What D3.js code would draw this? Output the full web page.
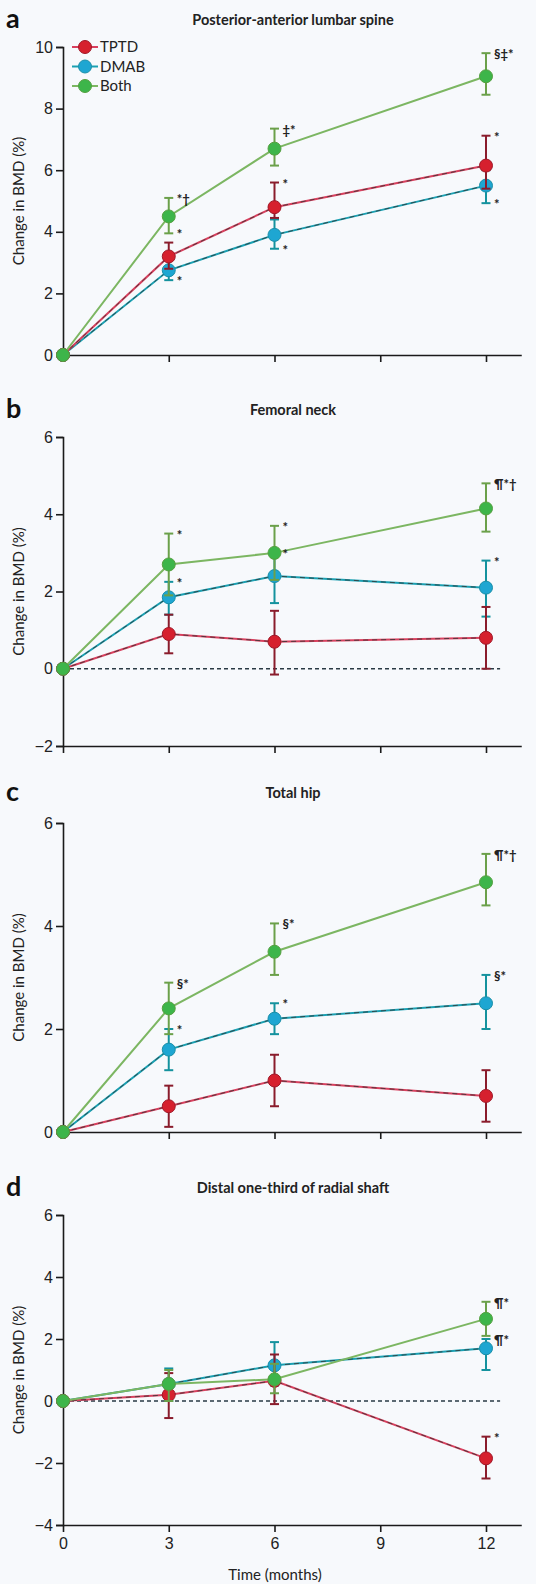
<!DOCTYPE html>
<html>
<head>
<meta charset="utf-8">
<script src="https://cdn.jsdelivr.net/npm/d3@7"></script>
<style>
  body { margin: 0; background: #f7f9fc; }
  svg { display: block; font-family: Lato, "Open Sans", sans-serif; }
  .tick text { font-size: 16px; fill: #222; }
  .domain, .tick line { stroke: #1a1a1a; stroke-width: 1.6; }
</style>
</head>
<body>
<script>
// months of follow-up and treatment groups
var months = [0, 3, 6, 12];
var groups = ["TPTD", "DMAB", "Both"];
var xTicks = [0, 3, 6, 9, 12];

// a: posterior-anterior lumbar spine (rows: TPTD, DMAB, Both)
var spineMean = [[0, 3.2, 4.8, 6.15], [0, 2.75, 3.9, 5.5], [0, 4.5, 6.7, 9.05]];
var spineLo   = [[0, 2.8, 4.45, 5.4], [0, 2.43, 3.45, 4.93], [0, 3.95, 6.15, 8.45]];
var spineHi   = [[0, 3.65, 5.6, 7.12], [0, 3.1, 4.4, 6.0], [0, 5.1, 7.35, 9.8]];
var spineTicks = [0, 2, 4, 6, 8, 10];
var spineNotes = [[1, 2, "*†"], [1, 2, "*", "lo"], [1, 1, "*", "lo"], [2, 2, "‡*"], [2, 0, "*"],
                  [2, 1, "*", "lo"], [3, 2, "§‡*"], [3, 0, "*"], [3, 1, "*", "lo"]];

// b: femoral neck
var neckMean = [[0, 0.9, 0.7, 0.8], [0, 1.85, 2.4, 2.1], [0, 2.7, 3.0, 4.15]];
var neckLo   = [[0, 0.4, -0.15, 0.0], [0, 1.4, 1.7, 1.35], [0, 1.9, 2.3, 3.55]];
var neckHi   = [[0, 1.4, 1.5, 1.6], [0, 2.25, 3.0, 2.8], [0, 3.5, 3.7, 4.8]];
var neckTicks = [-2, 0, 2, 4, 6];
var neckNotes = [[1, 2, "*"], [1, 1, "*"], [2, 2, "*"], [2, 1, "*"], [3, 2, "¶*†"], [3, 1, "*"]];

// c: total hip
var hipMean = [[0, 0.5, 1.0, 0.7], [0, 1.6, 2.2, 2.5], [0, 2.4, 3.5, 4.85]];
var hipLo   = [[0, 0.1, 0.5, 0.2], [0, 1.2, 1.9, 2.0], [0, 1.9, 3.05, 4.4]];
var hipHi   = [[0, 0.9, 1.5, 1.2], [0, 2.0, 2.5, 3.05], [0, 2.9, 4.05, 5.4]];
var hipTicks = [0, 2, 4, 6];
var hipNotes = [[1, 2, "§*"], [1, 1, "*"], [2, 2, "§*"], [2, 1, "*"], [3, 2, "¶*†"], [3, 1, "§*"]];

// d: distal one-third of radial shaft
var radMean = [[0, 0.2, 0.65, -1.85], [0, 0.55, 1.15, 1.7], [0, 0.55, 0.7, 2.65]];
var radLo   = [[0, -0.55, -0.1, -2.5], [0, 0.0, 0.5, 1.0], [0, 0.0, 0.25, 2.1]];
var radHi   = [[0, 0.9, 1.5, -1.15], [0, 1.05, 1.9, 2.0], [0, 1.0, 1.2, 3.2]];
var radTicks = [-4, -2, 0, 2, 4, 6];
var radNotes = [[3, 2, "¶*"], [3, 1, "¶*"], [3, 0, "*"]];

var fills   = ["#d6202e", "#1ea6d2", "#3db54a"];
var strokes = ["#a01828", "#1a8fa8", "#55a040"];
var lineCol = ["#d8405e", "#1aa0b2", "#7cb662"];
var barCol  = ["#8a1c2c", "#14929e", "#6ba04a"];

var width = 536, height = 1584;

var svg = d3.select("body").append("svg")
    .attr("width", width)
    .attr("height", height);

var x = d3.scaleLinear().domain([0, 13]).range([63, 521.25]);

var panels = [
  {letter: "a", title: "Posterior-anterior lumbar spine", titleY: 20, dom: [0, 10], rng: [355, 47],
   mean: spineMean, lo: spineLo, hi: spineHi, ticks: spineTicks, notes: spineNotes, zero: false, legend: true},
  {letter: "b", title: "Femoral neck", titleY: 410, dom: [-2, 6], rng: [746, 437],
   mean: neckMean, lo: neckLo, hi: neckHi, ticks: neckTicks, notes: neckNotes, zero: true},
  {letter: "c", title: "Total hip", titleY: 793, dom: [0, 6], rng: [1132, 823],
   mean: hipMean, lo: hipLo, hi: hipHi, ticks: hipTicks, notes: hipNotes, zero: false},
  {letter: "d", title: "Distal one-third of radial shaft", titleY: 1188, dom: [-4, 6], rng: [1525, 1215],
   mean: radMean, lo: radLo, hi: radHi, ticks: radTicks, notes: radNotes, zero: true, xlabels: true}
];

panels.forEach(function(p) {
  var y = d3.scaleLinear().domain(p.dom).range(p.rng);
  var g = svg.append("g");

  g.append("text")
      .attr("x", 6).attr("y", p.titleY + 8)
      .style("font-size", "27px").style("font-weight", "bold").style("fill", "#111")
      .text(p.letter);
  g.append("text")
      .attr("x", 293).attr("y", p.titleY + 5)
      .attr("text-anchor", "middle")
      .style("font-size", "14.5px").style("font-weight", "bold").style("fill", "#222")
      .text(p.title);

  // y axis
  g.append("g")
      .attr("transform", "translate(" + x(0) + ",0)")
      .call(d3.axisLeft(y).tickValues(p.ticks).tickSize(7).tickPadding(3).tickFormat(d3.format("d")));

  // x axis
  var xAxis = d3.axisBottom(x).tickValues(xTicks).tickSize(7).tickPadding(6).tickSizeOuter(0);
  if (!p.xlabels) xAxis.tickFormat("");
  g.append("g")
      .attr("transform", "translate(0," + y(p.dom[0]) + ")")
      .call(xAxis);

  g.append("text")
      .attr("transform", "translate(24," + (p.rng[0] + p.rng[1]) / 2 + ") rotate(-90)")
      .attr("text-anchor", "middle")
      .style("font-size", "15px").style("fill", "#222")
      .text("Change in BMD (%)");

  if (p.zero) {
    g.append("line")
        .attr("x1", x(0)).attr("x2", x(12.4))
        .attr("y1", y(0)).attr("y2", y(0))
        .attr("stroke", "#2a3a44").attr("stroke-width", 1.4)
        .attr("stroke-dasharray", "4,3");
  }

  var line = d3.line()
      .x(function(d, i) { return x(months[i]); })
      .y(function(d) { return y(d); });

  [1, 0, 2].forEach(function(s) {
    var sg = g.append("g");
    sg.append("path")
        .datum(p.mean[s])
        .attr("d", line)
        .attr("fill", "none")
        .attr("stroke", lineCol[s]).attr("stroke-width", 2);
    if (s < 2) {
      sg.append("path")
          .datum(p.mean[s])
          .attr("d", line)
          .attr("fill", "none")
          .attr("stroke", "#333").attr("stroke-width", 0.8)
          .attr("stroke-dasharray", "5,4");
    }
    var idx = [1, 2, 3];
    sg.selectAll(".bar").data(idx).enter().append("line")
        .attr("x1", function(i) { return x(months[i]); })
        .attr("x2", function(i) { return x(months[i]); })
        .attr("y1", function(i) { return y(p.lo[s][i]); })
        .attr("y2", function(i) { return y(p.hi[s][i]); })
        .attr("stroke", barCol[s]).attr("stroke-width", 2);
    ["lo", "hi"].forEach(function(k) {
      sg.selectAll(".cap" + k).data(idx).enter().append("line")
          .attr("x1", function(i) { return x(months[i]) - 4.5; })
          .attr("x2", function(i) { return x(months[i]) + 4.5; })
          .attr("y1", function(i) { return y(p[k][s][i]); })
          .attr("y2", function(i) { return y(p[k][s][i]); })
          .attr("stroke", barCol[s]).attr("stroke-width", 2);
    });
    sg.selectAll("circle").data(p.mean[s]).enter().append("circle")
        .attr("cx", function(d, i) { return x(months[i]); })
        .attr("cy", function(d) { return y(d); })
        .attr("r", 6.5)
        .attr("fill", fills[s])
        .attr("stroke", strokes[s]).attr("stroke-width", 1);
  });

  // significance marks next to error bars
  g.selectAll(".note").data(p.notes).enter().append("text")
      .attr("x", function(d) { return x(months[d[0]]) + 8; })
      .attr("y", function(d) {
        var v = d[3] === "lo" ? p.lo[d[1]][d[0]] : p.hi[d[1]][d[0]];
        return y(v) + 6;
      })
      .style("font-size", "13px").style("font-weight", "bold").style("fill", "#222")
      .text(function(d) { return d[2]; });

  if (p.legend) {
    var leg = g.selectAll(".legend").data(groups).enter().append("g")
        .attr("transform", function(d, i) { return "translate(85," + (47 + i * 19.5) + ")"; });
    leg.append("line")
        .attr("x1", -13).attr("x2", 13)
        .attr("stroke", function(d, i) { return lineCol[i]; }).attr("stroke-width", 2);
    leg.append("circle")
        .attr("r", 6.5)
        .attr("fill", function(d, i) { return fills[i]; })
        .attr("stroke", function(d, i) { return strokes[i]; });
    leg.append("text")
        .attr("x", 15).attr("dy", "0.35em")
        .style("font-size", "15px").style("fill", "#222")
        .text(function(d) { return d; });
  }
});

svg.append("text")
    .attr("x", 275).attr("y", 1580)
    .attr("text-anchor", "middle")
    .style("font-size", "15px").style("fill", "#222")
    .text("Time (months)");
</script>
</body>
</html>
